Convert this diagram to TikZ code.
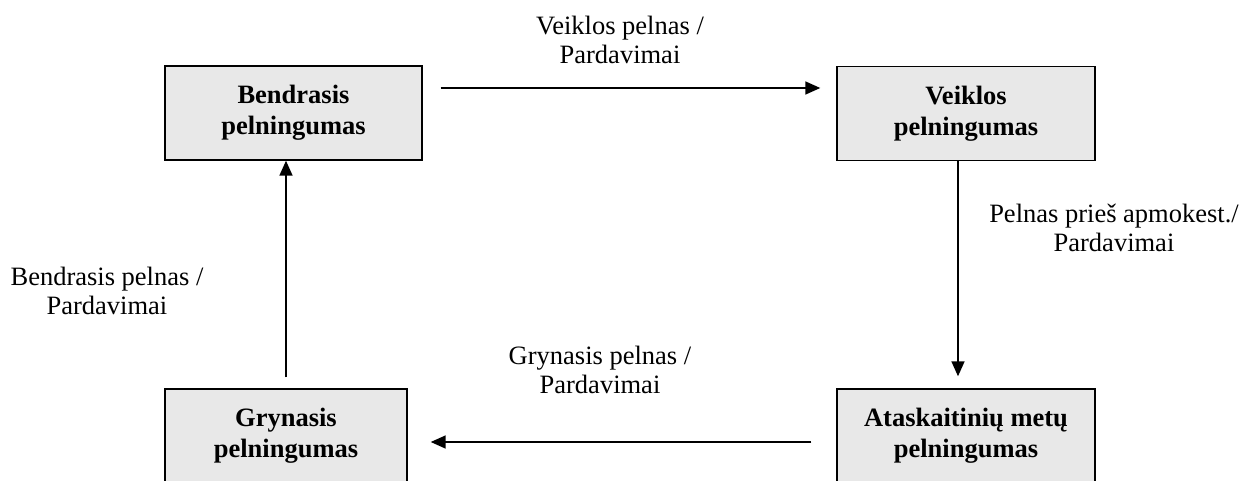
\documentclass[tikz,border=0pt]{standalone}
\usepackage{fontspec}
\setmainfont{Liberation Serif}
\usetikzlibrary{arrows.meta}
\begin{document}
\begin{tikzpicture}[x=1pt,y=-1pt]
    \tikzstyle{ratio}=[rectangle, draw=black, line width=1.4pt, fill=gray!18, align=center, font=\fontsize{26.5}{31}\selectfont\bfseries, minimum width=257pt, minimum height=94pt, inner sep=0pt]
    \tikzstyle{formula}=[align=center, font=\fontsize{26.5}{29.5}\selectfont, inner sep=0pt]
    \tikzstyle{link}=[line width=1.6pt, -{Triangle[length=15pt,width=13pt]}]
    \useasboundingbox (0,0) rectangle (1244,481);
    \node[ratio] (bend) at (293.5,113) {Bendrasis\\pelningumas};
    \node[ratio, minimum width=258pt] (veik) at (966,113.5) {Veiklos\\pelningumas};
    \node[ratio, minimum width=258pt] (atas) at (966,436) {Ataskaitinių metų\\pelningumas};
    \node[ratio, minimum width=242pt] (gry) at (286,436) {Grynasis\\pelningumas};
    \node[formula] (f1) at (620,40) {Veiklos pelnas /\\Pardavimai};
    \node[formula] (f2) at (1114,228) {Pelnas prieš apmokest./\\Pardavimai};
    \node[formula] (f3) at (600,370) {Grynasis pelnas /\\Pardavimai};
    \node[formula] (f4) at (107,291) {Bendrasis pelnas /\\Pardavimai};
    \draw[link, shorten <=18pt, shorten >=16pt] ([yshift=25pt]bend.east) -- ([yshift=25pt]bend.east -| veik.west);
    \draw[link, shorten >=12pt] ([xshift=-8pt]veik.south) -- ([xshift=-8pt]atas.north);
    \draw[link, shorten <=25pt, shorten >=23pt] ([yshift=-6pt]atas.west) -- ([yshift=-6pt]gry.east);
    \draw[link, shorten <=11pt] (gry.north) -- (gry.north |- bend.south);
\end{tikzpicture}
\end{document}
